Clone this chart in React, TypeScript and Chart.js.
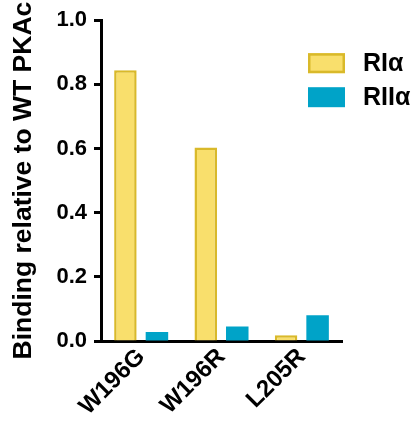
import React, { useEffect, useRef } from "react";
import { Chart, registerables } from "chart.js";

Chart.register(...registerables);

const categories = ["W196G", "W196R", "L205R"];
const seriesNames = ["RIα", "RIIα"];
const riAlpha = [0.844, 0.603, 0.018];
const riiAlpha = [0.028, 0.045, 0.08];
const yTicks = [0, 0.2, 0.4, 0.6, 0.8, 1.0];

const FONT = "'Liberation Sans', Arial, Helvetica, sans-serif";

const legendPlugin = {
  id: "customLegend",
  afterDraw(chart: any) {
    const { ctx, chartArea } = chart;
    const x0 = chartArea.right - 34;
    let y0 = chartArea.top + 33;
    ctx.save();
    chart.data.datasets.forEach((ds: any) => {
      const bw = ds.borderWidth || 0;
      ctx.fillStyle = ds.backgroundColor;
      ctx.fillRect(x0, y0, 37, 20);
      if (bw > 0) {
        ctx.strokeStyle = ds.borderColor;
        ctx.lineWidth = bw;
        ctx.strokeRect(x0 + bw / 2, y0 + bw / 2, 37 - bw, 20 - bw);
      }
      ctx.fillStyle = "#000";
      ctx.font = `bold 25px ${FONT}`;
      ctx.textBaseline = "middle";
      ctx.textAlign = "left";
      ctx.fillText(ds.label, x0 + 55, y0 + 11);
      y0 += 34;
    });
    ctx.restore();
  },
};

export default function App() {
  const ref = useRef<HTMLCanvasElement>(null);
  useEffect(() => {
    document.body.style.margin = "0";
    const chart = new Chart(ref.current!, {
      type: "bar",
      data: {
        labels: categories,
        datasets: [
          {
            label: seriesNames[0],
            data: riAlpha,
            backgroundColor: "#F9DF6C",
            borderColor: "#D9B92A",
            borderWidth: 2.5,
            borderSkipped: "bottom",
          },
          {
            label: seriesNames[1],
            data: riiAlpha,
            backgroundColor: "#00A3C8",
            borderColor: "#00A3C8",
            borderWidth: 0,
          },
        ],
      },
      options: {
        responsive: false,
        animation: false,
        layout: { padding: { left: 0, right: 75, top: 20, bottom: 0 } },
        datasets: {
          bar: { categoryPercentage: 0.785, barPercentage: 0.714 },
        } as any,
        plugins: {
          legend: { display: false },
          tooltip: { enabled: false },
        },
        scales: {
          x: {
            z: 1,
            grid: { display: true, drawOnChartArea: false, drawTicks: false },
            border: { display: true, width: 3, color: "#000" },
            ticks: {
              color: "#000",
              font: { family: FONT, size: 24, weight: "bold" },
              minRotation: 45,
              maxRotation: 45,
              padding: 2,
            },
            afterFit(scale: any) {
              scale.height = 80;
            },
          },
          y: {
            z: 1,
            min: 0,
            max: 1,
            afterBuildTicks(scale: any) {
              scale.ticks = yTicks.map((v) => ({ value: v }));
            },
            grid: {
              display: true,
              drawOnChartArea: false,
              drawTicks: true,
              tickLength: 7,
              tickWidth: 3,
              tickColor: "#000",
              color: "#000",
            },
            border: { display: true, width: 3, color: "#000" },
            ticks: {
              color: "#000",
              padding: 7,
              font: { family: FONT, size: 22, weight: "bold" },
              callback: (v: any) => Number(v).toFixed(1),
            },
            title: {
              display: true,
              text: "Binding relative to WT PKAc",
              color: "#000",
              font: { family: FONT, size: 26.5, weight: "bold" },
              padding: { top: 8, bottom: 0 },
            },
            afterFit(scale: any) {
              scale.width = 101;
            },
          },
        },
      },
      plugins: [legendPlugin],
    });
    return () => chart.destroy();
  }, []);
  return (
    <div style={{ position: "absolute", left: 0, top: 0, width: 417, height: 421 }}>
      <canvas ref={ref} width={417} height={421} />
    </div>
  );
}
